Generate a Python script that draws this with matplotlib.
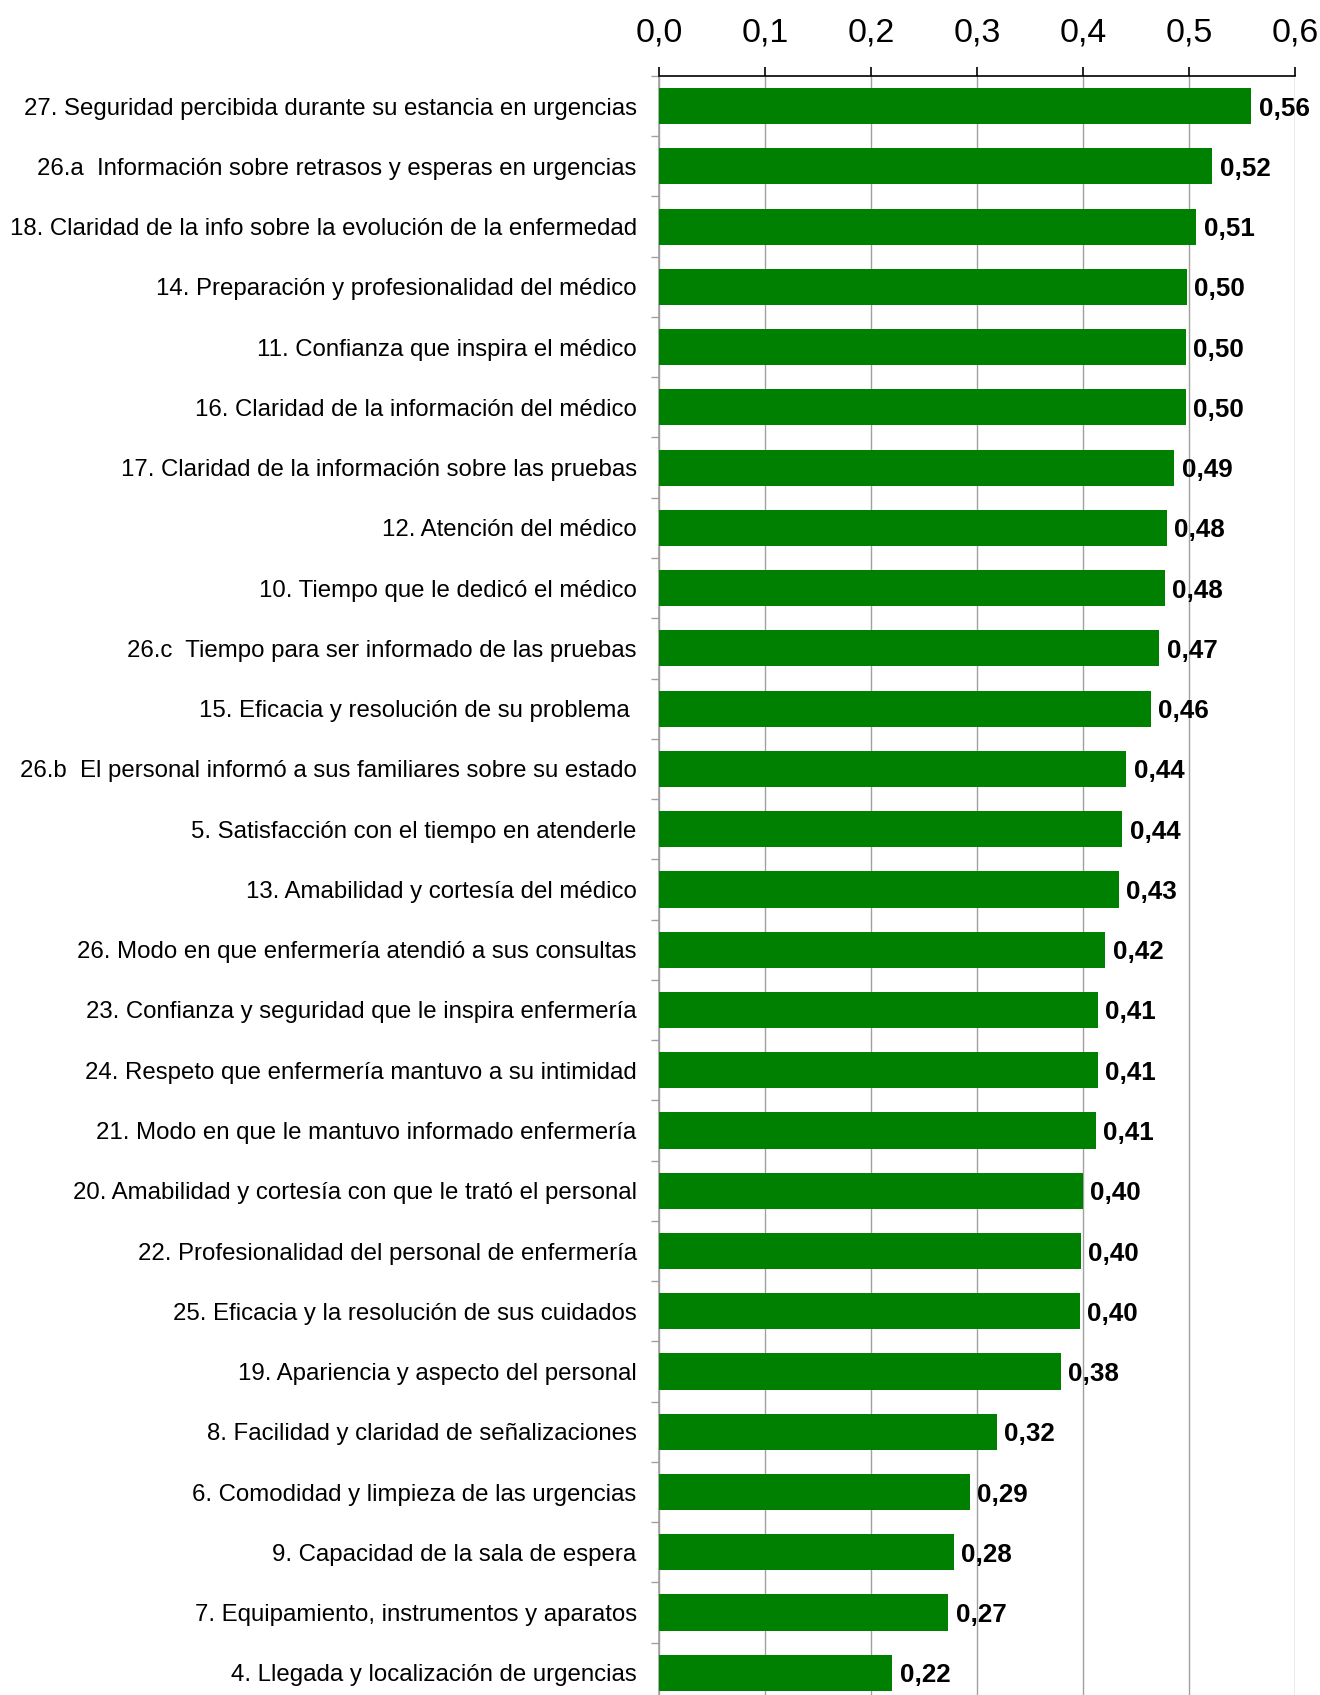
import matplotlib
matplotlib.use("Agg")
import matplotlib.pyplot as plt

plt.rcParams['font.family'] = ['Liberation Sans', 'DejaVu Sans']

categories = [
    "27. Seguridad percibida durante su estancia en urgencias",
    "26.a  Información sobre retrasos y esperas en urgencias",
    "18. Claridad de la info sobre la evolución de la enfermedad",
    "14. Preparación y profesionalidad del médico",
    "11. Confianza que inspira el médico",
    "16. Claridad de la información del médico",
    "17. Claridad de la información sobre las pruebas",
    "12. Atención del médico",
    "10. Tiempo que le dedicó el médico",
    "26.c  Tiempo para ser informado de las pruebas",
    "15. Eficacia y resolución de su problema ",
    "26.b  El personal informó a sus familiares sobre su estado",
    "5. Satisfacción con el tiempo en atenderle",
    "13. Amabilidad y cortesía del médico",
    "26. Modo en que enfermería atendió a sus consultas",
    "23. Confianza y seguridad que le inspira enfermería",
    "24. Respeto que enfermería mantuvo a su intimidad",
    "21. Modo en que le mantuvo informado enfermería",
    "20. Amabilidad y cortesía con que le trató el personal",
    "22. Profesionalidad del personal de enfermería",
    "25. Eficacia y la resolución de sus cuidados",
    "19. Apariencia y aspecto del personal",
    "8. Facilidad y claridad de señalizaciones",
    "6. Comodidad y limpieza de las urgencias",
    "9. Capacidad de la sala de espera",
    "7. Equipamiento, instrumentos y aparatos",
    "4. Llegada y localización de urgencias",
]

values = [0.559, 0.522, 0.507, 0.498, 0.497, 0.497, 0.486, 0.479, 0.477,
          0.472, 0.464, 0.441, 0.437, 0.434, 0.421, 0.414, 0.414, 0.412,
          0.400, 0.398, 0.397, 0.379, 0.319, 0.293, 0.278, 0.273, 0.220]

x_ticks = [0.0, 0.1, 0.2, 0.3, 0.4, 0.5, 0.6]
x_tick_labels = ["0,0", "0,1", "0,2", "0,3", "0,4", "0,5", "0,6"]

fig = plt.figure(figsize=(13.2, 16.95), dpi=100)
ax = fig.add_axes([0.4992, -0.0047, 0.4818, 0.9599])

n = len(categories)
pos = list(range(n))
ax.barh(pos, values, height=0.6, color="#008000", zorder=3)

ax.set_xlim(0, 0.6)
ax.set_ylim(n - 0.5, -0.5)

# Value axis on top
ax.xaxis.tick_top()
ax.set_xticks(x_ticks)
ax.set_xticklabels(x_tick_labels, fontsize=24.5)
ax.tick_params(axis='x', direction='out', length=6.5, width=1.2, color='black', pad=13)
ax.grid(axis='x', color='#a0a0a0', linewidth=1.0, zorder=0)

# Category labels, with ticks on category boundaries
ax.set_yticks(pos)
ax.set_yticklabels(categories, fontsize=17.3)
ax.tick_params(axis='y', length=0, pad=16)
ax.set_yticks([i + 0.5 for i in range(-1, n)], minor=True)
ax.tick_params(axis='y', which='minor', length=6, width=1, color='#a0a0a0', direction='out')

for side in ['right', 'bottom']:
    ax.spines[side].set_visible(False)
ax.spines['left'].set_color('#a0a0a0')
ax.spines['left'].set_linewidth(1.2)
ax.spines['top'].set_color('black')
ax.spines['top'].set_linewidth(1.2)

for p, v in zip(pos, values):
    ax.text(v + 0.007, p, f"{v:.2f}".replace(".", ","), va='center_baseline', ha='left',
            fontsize=18.7, fontweight='bold', color='black', zorder=4)

fig.savefig("out.png", dpi=100)
